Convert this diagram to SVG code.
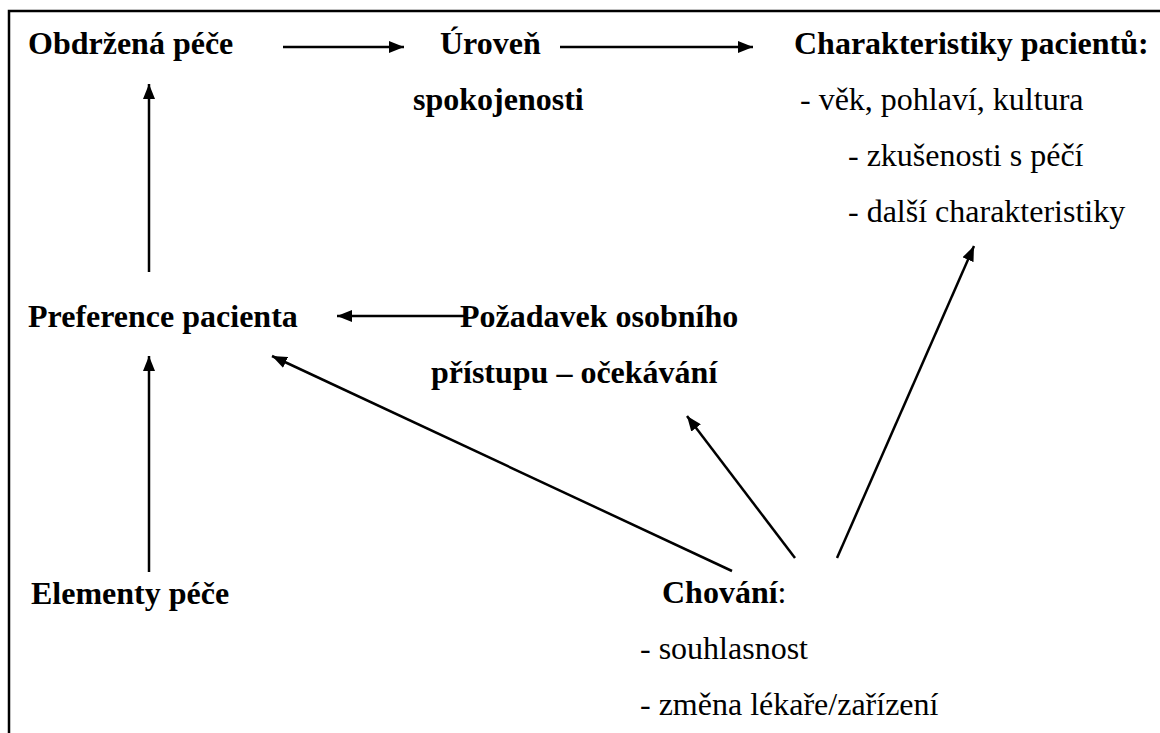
<svg xmlns="http://www.w3.org/2000/svg" width="1160" height="733" viewBox="0 0 1160 733">
<style>
.t{font-family:"Liberation Serif","Times New Roman",serif;font-size:32px;fill:#000}
.b{font-weight:bold}
.ln{stroke:#000;stroke-width:2.5;fill:none}
</style>
<defs>
<marker id="ah" markerUnits="userSpaceOnUse" markerWidth="16" markerHeight="12" refX="15" refY="6" orient="auto">
<path d="M0,0 L15,6 L0,12 z" fill="#000"/>
</marker>
</defs>
<rect x="0" y="0" width="1160" height="733" fill="#fff"/>
<g id="frame">
<path class="ln" d="M9,733 L9,11 L1160,11" stroke-width="2"/>
</g>
<g id="connectors">
<line class="ln" x1="283" y1="47" x2="404" y2="47" marker-end="url(#ah)"/>
<line class="ln" x1="560" y1="47" x2="753" y2="47" marker-end="url(#ah)"/>
<line class="ln" x1="149" y1="272" x2="149" y2="84" marker-end="url(#ah)"/>
<line class="ln" x1="464" y1="316" x2="337" y2="316" marker-end="url(#ah)"/>
<line class="ln" x1="149" y1="572" x2="149" y2="356" marker-end="url(#ah)"/>
<line class="ln" x1="732" y1="571" x2="272" y2="356" marker-end="url(#ah)"/>
<line class="ln" x1="795" y1="558" x2="687" y2="416" marker-end="url(#ah)"/>
<line class="ln" x1="837" y1="558" x2="974" y2="246" marker-end="url(#ah)"/>
</g>
<g id="n-obdrzena"><text class="t b" x="28" y="54">Obdržená péče</text></g>
<g id="n-uroven"><text class="t b" x="440" y="54">Úroveň</text><text class="t b" x="413" y="110">spokojenosti</text></g>
<g id="n-charakteristiky">
<text class="t b" x="794" y="54">Charakteristiky pacientů:</text>
<text class="t" x="800" y="110">- věk, pohlaví, kultura</text>
<text class="t" x="848" y="166">- zkušenosti s péčí</text>
<text class="t" x="848" y="222">- další charakteristiky</text>
</g>
<g id="n-preference"><text class="t b" x="28" y="327">Preference pacienta</text></g>
<g id="n-pozadavek">
<text class="t b" x="460" y="327">Požadavek osobního</text>
<text class="t b" x="431" y="383">přístupu – očekávání</text>
</g>
<g id="n-elementy"><text class="t b" x="31" y="604">Elementy péče</text></g>
<g id="n-chovani">
<text class="t" x="662" y="603"><tspan class="b">Chování</tspan>:</text>
<text class="t" x="640" y="659">- souhlasnost</text>
<text class="t" x="640" y="715">- změna lékaře/zařízení</text>
</g>
</svg>
